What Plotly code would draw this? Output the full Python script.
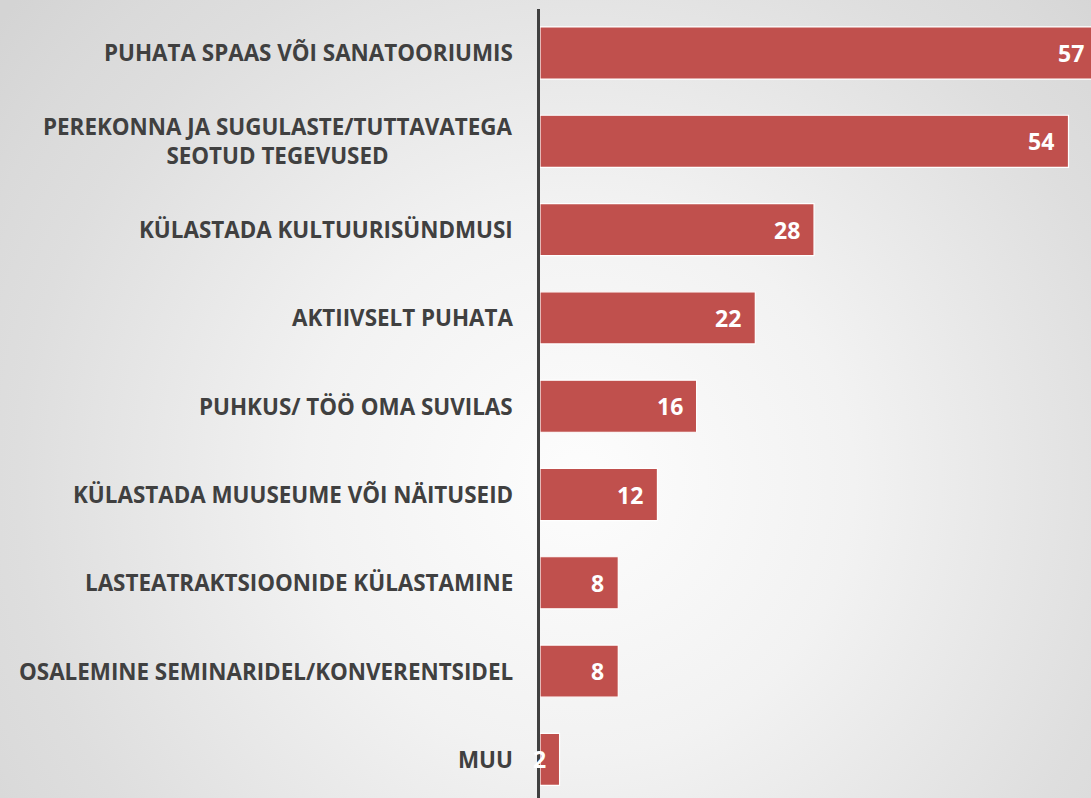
import base64
import plotly.graph_objects as go

categories = [
    "PUHATA SPAAS VÕI SANATOORIUMIS",
    "PEREKONNA JA SUGULASTE/TUTTAVATEGA<br>SEOTUD TEGEVUSED",
    "KÜLASTADA KULTUURISÜNDMUSI",
    "AKTIIVSELT PUHATA",
    "PUHKUS/ TÖÖ OMA SUVILAS",
    "KÜLASTADA MUUSEUME VÕI NÄITUSEID",
    "LASTEATRAKTSIOONIDE KÜLASTAMINE",
    "OSALEMINE SEMINARIDEL/KONVERENTSIDEL",
    "MUU",
]
values = [57, 54, 28, 22, 16, 12, 8, 8, 2]

W, H = 1091, 798
FONT = "Open Sans"
LABEL_COLOR = "#404040"
BAR_COLOR = "#C0504D"
XMAX = 56.3

# radial gradient background as an SVG data URI
svg = f'''<svg xmlns="http://www.w3.org/2000/svg" width="{W}" height="{H}">
<defs><radialGradient id="g" gradientUnits="userSpaceOnUse" cx="580" cy="480" r="740">
<stop offset="0" stop-color="#fdfdfd"/><stop offset="0.37" stop-color="#f2f2f2"/>
<stop offset="0.76" stop-color="#dedede"/><stop offset="0.87" stop-color="#dadada"/>
<stop offset="1" stop-color="#d4d4d4"/>
</radialGradient></defs>
<rect width="{W}" height="{H}" fill="url(#g)"/></svg>'''
bg_uri = "data:image/svg+xml;base64," + base64.b64encode(svg.encode()).decode()

idx = list(range(len(categories)))

fig = go.Figure(go.Bar(
    x=values,
    y=idx,
    orientation="h",
    marker=dict(color=BAR_COLOR, line=dict(color="white", width=1.2)),
    width=0.59,
    hoverinfo="skip",
))

annotations = []
for i, (c, v) in enumerate(zip(categories, values)):
    annotations.append(dict(
        x=0, xref="paper", y=i, yref="y", text=c, showarrow=False,
        xanchor="right", yanchor="middle", xshift=-25, align="center",
        font=dict(family=FONT, size=22.4, color=LABEL_COLOR, weight="bold"),
    ))
    annotations.append(dict(
        x=v / XMAX, xref="x domain", y=i, yref="y", text=str(v), showarrow=False,
        xanchor="right", yanchor="middle", xshift=-12,
        font=dict(family=FONT, size=23, color="white", weight="bold"),
    ))

fig.update_layout(
    width=W, height=H,
    margin=dict(l=540, r=0, t=9, b=0),
    paper_bgcolor="#e8e8e8",
    plot_bgcolor="rgba(0,0,0,0)",
    showlegend=False,
    images=[dict(source=bg_uri, xref="paper", yref="paper", x=-540/551, y=1 + 9/789,
                 sizex=W/551, sizey=H/789, xanchor="left", yanchor="top",
                 sizing="stretch", layer="below")],
    xaxis=dict(range=[0, XMAX], visible=False, fixedrange=True),
    yaxis=dict(range=[8.437, -0.498], showticklabels=False, showgrid=False,
               zeroline=False, showline=True, linecolor="#404040", linewidth=3,
               ticks="", fixedrange=True),
    annotations=annotations,
)

fig.write_html(
    "out.html",
    config={"displayModeBar": False, "staticPlot": True},
    post_script="document.body.style.margin='0';document.body.style.overflow='hidden';",
)
